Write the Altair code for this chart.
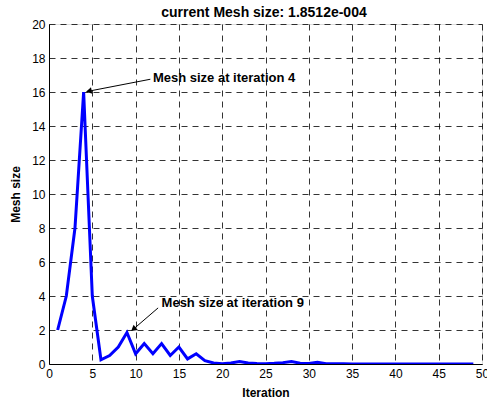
import altair as alt
import pandas as pd

iteration = list(range(1, 50))
mesh_size = [2, 4, 8, 16, 4, 0.25, 0.5, 1.0, 1.85, 0.6,
             1.2, 0.6, 1.2, 0.5, 1.0, 0.3, 0.6, 0.2, 0.06, 0.02,
             0.06, 0.14, 0.06, 0.03, 0.02, 0.04, 0.08, 0.14, 0.05, 0.03,
             0.1, 0.02, 0.01, 0.01, 0.005, 0.005, 0.004, 0.004, 0.003, 0.003,
             0.002, 0.002, 0.001, 0.001, 0.001, 0.0008, 0.0005, 0.0003, 0.0002]

title_text = ["current Mesh size: 1.8512e-004"]

ann_text = ["Mesh size at iteration 4", "Mesh size at iteration 9"]
ann_text_x = [12.0, 13.0]
ann_text_y = [16.85, 3.6]
arrow_x0 = [11.7, 12.6]
arrow_y0 = [16.75, 3.3]
arrow_x1 = [4.6, 9.75]
arrow_y1 = [16.05, 2.05]
arrow_angle = [258, 231]

x_ticks = list(range(0, 51, 5))
y_ticks = list(range(0, 21, 2))

df = pd.DataFrame({"Iteration": iteration, "Mesh": mesh_size})
ann = pd.DataFrame({"text": ann_text, "tx": ann_text_x, "ty": ann_text_y,
                    "x0": arrow_x0, "y0": arrow_y0, "x1": arrow_x1, "y1": arrow_y1,
                    "angle": arrow_angle})
tdf = pd.DataFrame({"t": title_text})

FONT = "Liberation Sans"
xs = alt.Scale(domain=[0, 50], nice=False, zero=False)
ys = alt.Scale(domain=[0, 20], nice=False)

common = dict(grid=True, gridColor="black", gridDash=[6, 5], gridWidth=0.8,
              ticks=False, domainColor="black", labelColor="black",
              labelFont=FONT, labelFontSize=12, labelPadding=4,
              titleFont=FONT, titleFontSize=12, titleFontWeight="bold",
              titleColor="black", labelFlush=False, labelOverlap=False)

xaxis = alt.Axis(values=x_ticks, title="Iteration", titlePadding=8, **common)
yaxis = alt.Axis(values=y_ticks, title="Mesh size", titlePadding=9, **common)

line = alt.Chart(df).mark_line(color="#0000FF", strokeWidth=3, clip=True).encode(
    x=alt.X("Iteration:Q", scale=xs, axis=xaxis),
    y=alt.Y("Mesh:Q", scale=ys, axis=yaxis),
)

shaft = alt.Chart(ann).mark_rule(color="black", strokeWidth=1).encode(
    x=alt.X("x0:Q", scale=xs, axis=xaxis), y=alt.Y("y0:Q", scale=ys, axis=yaxis),
    x2="x1:Q", y2="y1:Q",
)
head = alt.Chart(ann).mark_point(shape="triangle-up", filled=True, color="black",
                                 size=45, opacity=1).encode(
    x=alt.X("x1:Q", scale=xs, axis=xaxis), y=alt.Y("y1:Q", scale=ys, axis=yaxis),
    angle=alt.Angle("angle:Q", scale=None),
)
text = alt.Chart(ann).mark_text(align="left", baseline="middle", font=FONT,
                                fontSize=13, fontWeight="bold", color="black").encode(
    x=alt.X("tx:Q", scale=xs, axis=xaxis), y=alt.Y("ty:Q", scale=ys, axis=yaxis),
    text="text:N",
)
title = alt.Chart(tdf).mark_text(align="center", baseline="alphabetic", font=FONT,
                                 fontSize=14, fontWeight="bold", color="black",
                                 clip=False).encode(
    x=alt.value(215), y=alt.value(-7), text="t:N",
)

chart = alt.layer(line, shaft, head, text, title).properties(
    width=433, height=340,
    autosize=alt.AutoSizeParams(type="none"),
    padding={"left": 49, "top": 24, "right": 5, "bottom": 36},
).configure_view(stroke="black", strokeWidth=1).configure(background="white")

chart.save("out.html", embed_options={"renderer": "svg", "actions": False})
